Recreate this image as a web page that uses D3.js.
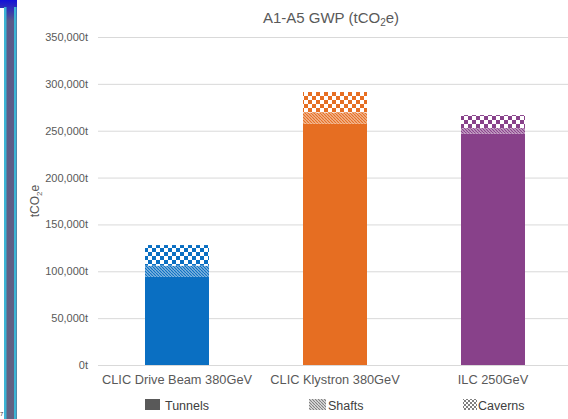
<!DOCTYPE html>
<html>
<head>
<meta charset="utf-8">
<script src="https://cdn.jsdelivr.net/npm/d3@7"></script>
<style>
  html, body { margin: 0; padding: 0; background: #fff; }
  svg { display: block; font-family: "Liberation Sans", Arial, sans-serif; }
</style>
</head>
<body>
<svg id="chart" width="568" height="419"></svg>
<script>
// Embodied carbon, stages A1-A5, by structure type
const categories = ["CLIC Drive Beam 380GeV", "CLIC Klystron 380GeV", "ILC 250GeV"];
const tunnels = [94000, 257500, 246800];
const shafts = [12000, 12000, 6000];
const caverns = [22000, 21800, 13900];
const seriesNames = ["Tunnels", "Shafts", "Caverns"];
const barColors = ["#0a6fc2", "#e66e22", "#88418a"];
const yTicks = [0, 50000, 100000, 150000, 200000, 250000, 300000, 350000];

const svg = d3.select("#chart");
const W = 568, H = 419;
const grey = "#595959";
const FONT = "'Liberation Sans', Arial, sans-serif";

// slide frame strip on the left edge
const frameGrad = svg.append("defs").append("linearGradient")
  .attr("id", "frameGrad").attr("x1", 0).attr("y1", 0).attr("x2", 0).attr("y2", 1);
frameGrad.append("stop").attr("offset", "0").attr("stop-color", "#1212d8");
frameGrad.append("stop").attr("offset", "0.05").attr("stop-color", "#5a5a8a");
frameGrad.append("stop").attr("offset", "1").attr("stop-color", "#626282");
svg.append("rect").attr("x", 0).attr("y", 0).attr("width", 17).attr("height", H).attr("fill", "url(#frameGrad)");
svg.append("rect").attr("x", 4).attr("y", 7).attr("width", 2.5).attr("height", H).attr("fill", "#3cb4d4");
svg.append("rect").attr("x", 14).attr("y", 7).attr("width", 2.5).attr("height", H).attr("fill", "#3cb4d4");
svg.append("rect").attr("x", 0).attr("y", 8).attr("width", 4).attr("height", H).attr("fill", "#fff");
svg.append("text").attr("x", 0).attr("y", 416).attr("font-size", 6).attr("fill", "#333")
  .attr("font-family", FONT).text("7");

// plot area
const x0 = 98, x1 = 572, yTop = 37, yBot = 365;
const x = d3.scaleBand().domain(categories).range([x0, x1])
  .paddingInner(0.595).paddingOuter(0.2975);
const y = d3.scaleLinear().domain([0, 350000]).range([yBot, yTop]);

const defs = svg.append("defs");

// checkerboard fill for caverns
function checker(id, color, size) {
  const p = defs.append("pattern").attr("id", id).attr("patternUnits", "userSpaceOnUse")
    .attr("width", size * 2).attr("height", size * 2);
  p.append("rect").attr("width", size * 2).attr("height", size * 2).attr("fill", "#fff");
  p.append("rect").attr("width", size).attr("height", size).attr("fill", color);
  p.append("rect").attr("x", size).attr("y", size).attr("width", size).attr("height", size).attr("fill", color);
}
// fine diagonal hatch for shafts
function hatch(id, color, size, bgOpacity) {
  const p = defs.append("pattern").attr("id", id).attr("patternUnits", "userSpaceOnUse")
    .attr("width", size).attr("height", size);
  p.append("rect").attr("width", size).attr("height", size).attr("fill", "#fff");
  p.append("rect").attr("width", size).attr("height", size).attr("fill", color).attr("opacity", bgOpacity);
  p.append("path").attr("d", `M0,0 L${size},${size} M${-size},0 L0,${size} M${size},0 L${2*size},${size}`)
    .attr("stroke", color).attr("stroke-width", 1.2);
}
barColors.forEach((c, i) => {
  checker("cav" + i, c, 4);
  hatch("sh" + i, c, 3, 0.45);
});
checker("cavLegend", "#7f7f7f", 2);
hatch("shLegend", "#7f7f7f", 3, 0.15);

// gridlines
svg.append("g").selectAll("line").data(yTicks).join("line")
  .attr("x1", x0).attr("x2", W)
  .attr("y1", d => y(d) + 0.5).attr("y2", d => y(d) + 0.5)
  .attr("stroke", "#d9d9d9").attr("stroke-width", 1);

// y axis labels
const yAxis = d3.axisLeft(y).tickValues(yTicks).tickSize(0).tickPadding(0)
  .tickFormat(d => d3.format(",")(d) + "t");
const ya = svg.append("g").attr("transform", `translate(${x0 - 10},0)`).call(yAxis);
ya.select(".domain").remove();
ya.selectAll("text").attr("fill", grey).attr("font-size", 11).attr("font-family", FONT);

// stacked bars
const rows = categories.map((c, i) => ({ cat: c, Tunnels: tunnels[i], Shafts: shafts[i], Caverns: caverns[i], idx: i }));
const stacked = d3.stack().keys(seriesNames)(rows);
const fills = {
  Tunnels: i => barColors[i],
  Shafts: i => `url(#sh${i})`,
  Caverns: i => `url(#cav${i})`
};
svg.append("g").selectAll("g").data(stacked).join("g")
  .selectAll("rect").data(s => s.map(d => ({ key: s.key, d }))).join("rect")
  .attr("x", o => x(o.d.data.cat))
  .attr("width", x.bandwidth())
  .attr("y", o => y(o.d[1]))
  .attr("height", o => y(o.d[0]) - y(o.d[1]))
  .attr("fill", o => fills[o.key](o.d.data.idx));

// category labels
const xa = svg.append("g").attr("transform", `translate(0,${yBot})`)
  .call(d3.axisBottom(x).tickSize(0).tickPadding(10));
xa.select(".domain").remove();
xa.selectAll("text").attr("fill", grey).attr("font-size", 12.8).attr("font-family", FONT);

// title
const title = svg.append("text").attr("x", 331).attr("y", 23).attr("text-anchor", "middle")
  .attr("fill", grey).attr("font-size", 15).attr("font-family", FONT);
title.append("tspan").text("A1-A5 GWP (tCO");
title.append("tspan").attr("font-size", 10).attr("dy", 3).text("2");
title.append("tspan").attr("dy", -3).text("e)");

// y axis title
const yt = svg.append("text").attr("transform", "translate(39,201) rotate(-90)")
  .attr("text-anchor", "middle").attr("fill", grey).attr("font-size", 12).attr("font-family", FONT);
yt.append("tspan").text("tCO");
yt.append("tspan").attr("font-size", 8).attr("dy", 2.5).text("2");
yt.append("tspan").attr("dy", -2.5).text("e");

// legend
const legendItems = [
  { name: "Tunnels", fill: "#595959", x: 145, w: 15, tx: 165 },
  { name: "Shafts", fill: "url(#shLegend)", x: 309, w: 17, tx: 328 },
  { name: "Caverns", fill: "url(#cavLegend)", x: 463, w: 14, tx: 478 }
];
const lg = svg.append("g").selectAll("g").data(legendItems).join("g");
lg.append("rect").attr("x", d => d.x).attr("y", 399).attr("width", d => d.w).attr("height", 11)
  .attr("fill", d => d.fill);
lg.append("text").attr("x", d => d.tx).attr("y", 409.5).attr("fill", "#404040")
  .attr("font-size", 12.5).attr("font-family", FONT).text(d => d.name);
</script>
</body>
</html>
